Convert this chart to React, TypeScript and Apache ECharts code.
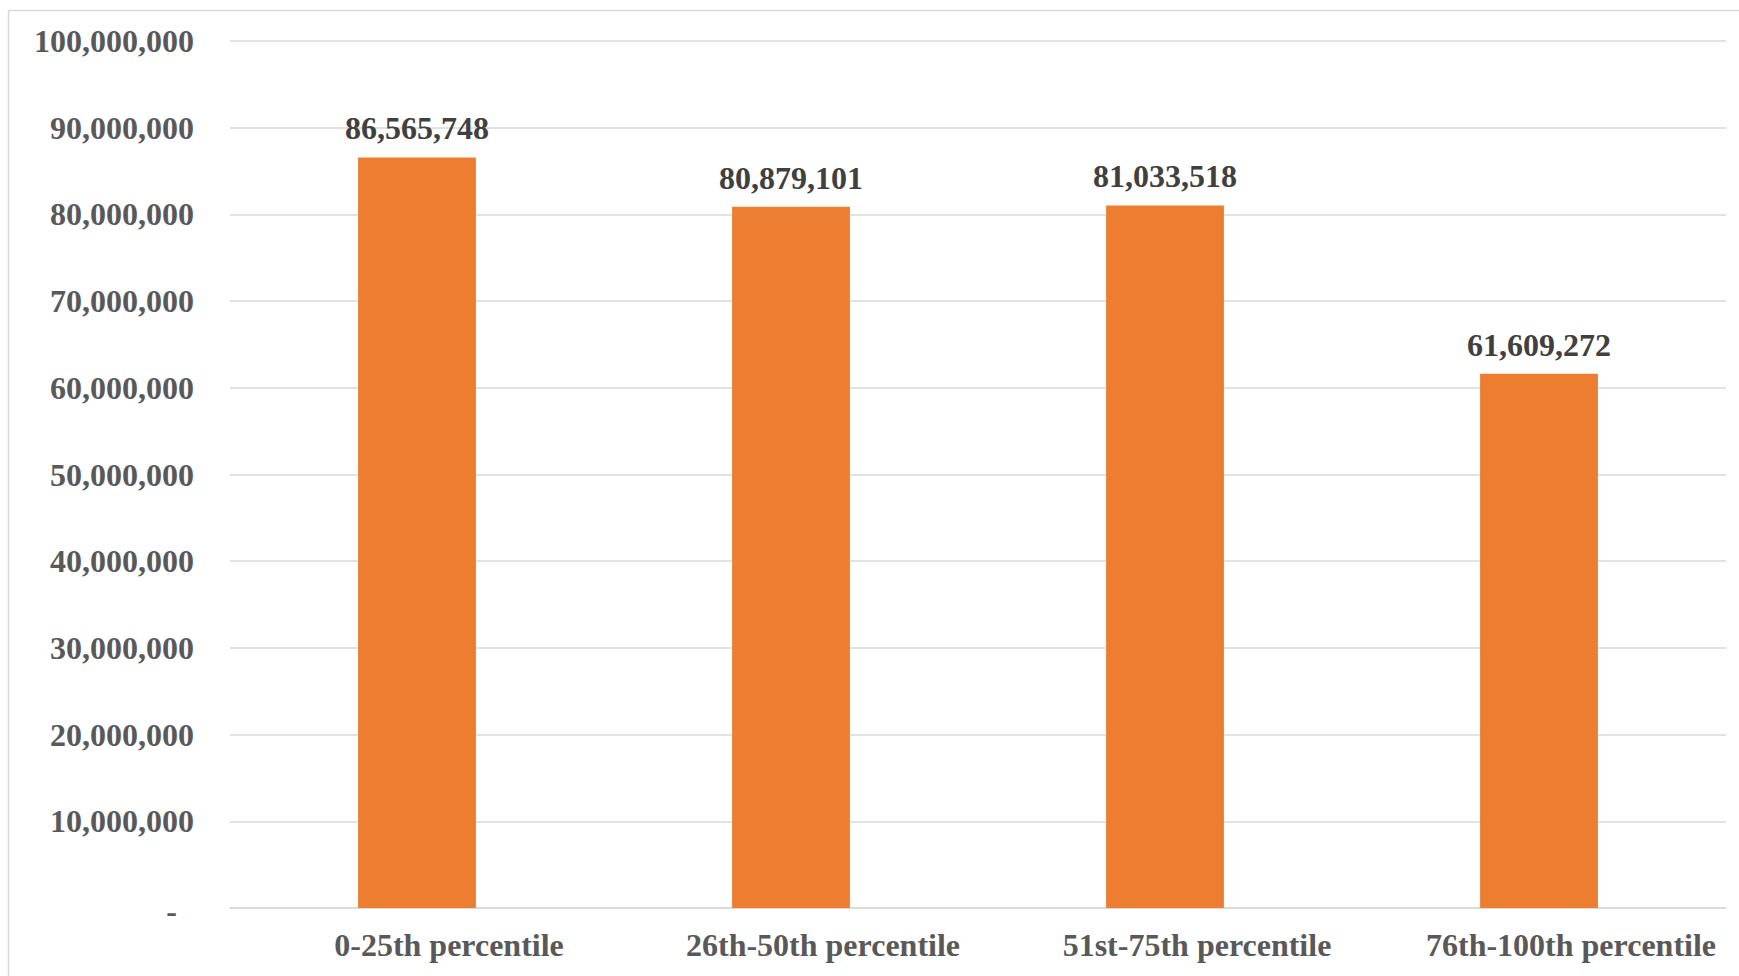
import React, { useEffect, useRef } from "react";
import * as echarts from "echarts";

const categories = [
  "0-25th percentile",
  "26th-50th percentile",
  "51st-75th percentile",
  "76th-100th percentile",
];
const values = [86565748, 80879101, 81033518, 61609272];
const yTicks = { min: 0, max: 100000000, interval: 10000000 };

const fmt = (v: number) => v.toLocaleString("en-US");

export default function App() {
  const ref = useRef<HTMLDivElement>(null);
  useEffect(() => {
    document.body.style.margin = "0";
    document.body.style.overflow = "hidden";
    const chart = echarts.init(ref.current!, undefined, { renderer: "svg" });
    const font = "'Liberation Serif', 'Times New Roman', serif";
    chart.setOption({
      animation: false,
      backgroundColor: "#ffffff",
      grid: { left: 230, right: 13, top: 41, bottom: 68, containLabel: false },
      graphic: [
        {
          type: "polyline",
          shape: { points: [[8.5, 2000], [8.5, 10.5], [2000, 10.5]] },
          style: { stroke: "#d9d9d9", lineWidth: 1.5, fill: "none" },
          silent: true,
        },
      ],
      xAxis: {
        type: "category",
        data: categories,
        axisTick: { show: false },
        axisLine: { show: true, lineStyle: { color: "#d9d9d9", width: 1.5 } },
        axisLabel: {
          color: "#595959",
          fontFamily: font,
          fontWeight: "bold",
          fontSize: 32,
          margin: 21,
          padding: [0, 0, 0, 64],
          interval: 0,
        },
      },
      yAxis: {
        type: "value",
        min: yTicks.min,
        max: yTicks.max,
        interval: yTicks.interval,
        axisLine: { show: false },
        axisTick: { show: false },
        splitLine: { lineStyle: { color: "#d9d9d9", width: 1.5 } },
        axisLabel: {
          color: "#595959",
          fontFamily: font,
          fontWeight: "bold",
          fontSize: 32,
          margin: 36,
          formatter: (v: number) => (v === 0 ? "{z|-}" : fmt(v)),
          rich: {
            z: {
              color: "#595959",
              fontFamily: font,
              fontWeight: "bold",
              fontSize: 32,
              padding: [6, 17, 0, 0],
            },
          },
        },
      },
      series: [
        {
          type: "bar",
          data: values,
          barWidth: "31.5%",
          itemStyle: { color: "#ED7D31" },
          label: {
            show: true,
            position: "top",
            distance: 13,
            color: "#404040",
            fontFamily: font,
            fontWeight: "bold",
            fontSize: 32,
            formatter: (p: any) => fmt(p.value),
          },
        },
      ],
    });
    return () => chart.dispose();
  }, []);
  return <div ref={ref} style={{ width: 1739, height: 976 }} />;
}
